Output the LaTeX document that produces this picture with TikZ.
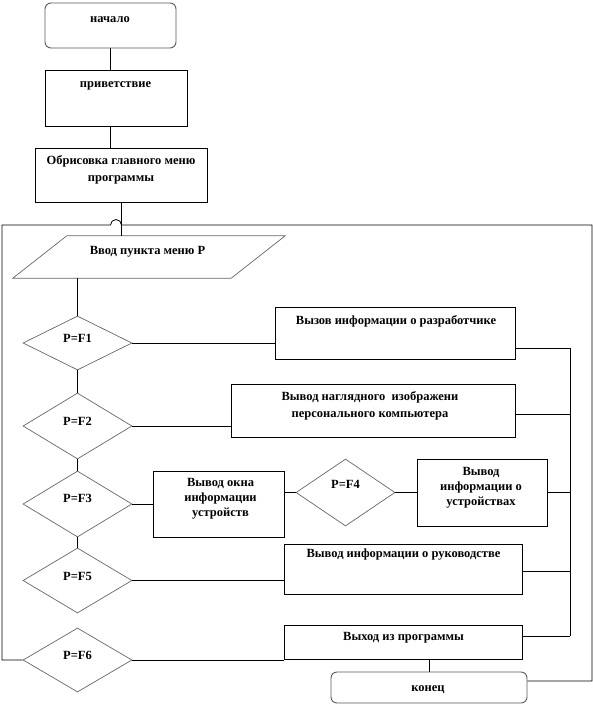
\documentclass[tikz,border=0pt]{standalone}
\usepackage{fontspec}
\setmainfont{Liberation Serif}
\usetikzlibrary{shapes.geometric}
\tikzset{
  boxs/.style={draw=black, rectangle, inner sep=0pt, line width=0.8pt},
  terms/.style={draw=black!65, rectangle, rounded corners=6pt, inner sep=0pt, line width=0.9pt},
  decs/.style={draw=black!60, diamond, inner sep=0pt, line width=0.7pt},
  ioline/.style={draw=black!60, line width=0.7pt},
  txt/.style={inner sep=0pt, align=center, font=\bfseries\fontsize{12.5}{17}\selectfont},
  txt3/.style={inner sep=0pt, align=center, font=\bfseries\fontsize{12.5}{14.8}\selectfont},
  conn/.style={draw=black, line width=0.8pt}
}
\begin{document}
\begin{tikzpicture}[x=1pt, y=-1pt]
\useasboundingbox (0,0) rectangle (593,706);
% shapes
\node[terms, minimum width=131pt, minimum height=45pt] (start) at (110.5,25.5) {};
\node[boxs, minimum width=142pt, minimum height=56pt] (hello) at (116,98) {};
\node[boxs, minimum width=172pt, minimum height=54pt] (menu) at (121,175) {};
\node[rectangle, inner sep=0pt, minimum width=272pt, minimum height=42pt] (input) at (149,257) {};
\draw[ioline] ([xshift=54pt]input.north west) -- (input.north east) -- ([xshift=-54pt]input.south east) -- (input.south west) -- cycle;
\node[decs, minimum width=109pt, minimum height=54pt] (f1) at (77.5,343) {};
\node[decs, minimum width=109pt, minimum height=66pt] (f2) at (77.5,426) {};
\node[decs, minimum width=109pt, minimum height=66pt] (f3) at (77.5,504) {};
\node[decs, minimum width=109pt, minimum height=65pt] (f5) at (77.5,580.5) {};
\node[decs, minimum width=109pt, minimum height=64pt] (f6) at (77.5,660) {};
\node[decs, minimum width=99pt, minimum height=67pt] (f4) at (345.5,492.5) {};
\node[boxs, minimum width=240pt, minimum height=52pt] (b1) at (395,333) {};
\node[boxs, minimum width=284pt, minimum height=53pt] (b2) at (373,410.5) {};
\node[boxs, minimum width=131pt, minimum height=66pt] (b3) at (218.5,504) {};
\node[boxs, minimum width=130pt, minimum height=67pt] (b4) at (482,492.5) {};
\node[boxs, minimum width=238pt, minimum height=50pt] (b5) at (403.5,569) {};
\node[boxs, minimum width=238pt, minimum height=34pt] (b6) at (403.5,642) {};
\node[terms, minimum width=196pt, minimum height=31pt] (fin) at (429,687.5) {};
% texts
\node[txt] (t0) at (110,20) {начало};
\node[txt] (t1) at (115.5,86) {приветствие};
\node[txt] (t2) at (121,169.5) {Обрисовка главного меню\\программы};
\node[txt] (tin) at (147.5,252) {Ввод пункта меню P};
\node[txt] (tf1) at (77.5,338) {P=F1};
\node[txt] (tf2) at (77.5,421) {P=F2};
\node[txt] (tf3) at (77.5,498) {P=F3};
\node[txt] (tf4) at (345.5,484) {P=F4};
\node[txt] (tf5) at (77.5,576) {P=F5};
\node[txt] (tf6) at (77.5,655) {P=F6};
\node[txt] (tb1) at (396,321) {Вызов информации о разработчике};
\node[txt] (tb2) at (370,406) {Вывод наглядного \ изображени\\персонального компьютера};
\node[txt3] (tb3) at (220.5,498.5) {Вывод окна\\информации\\устройств};
\node[txt3] (tb4) at (481,488) {Вывод\\информации о\\устройствах};
\node[txt] (tb5) at (403.5,555) {Вывод информации о руководстве};
\node[txt] (tb6) at (403.5,638) {Выход из программы};
\node[txt] (tfin) at (428,690) {конец};
% coordinates
\coordinate (lx) at (2,225);
\coordinate (hopL) at (110.5,225);
\coordinate (rx) at (592,225);
\coordinate (busEnd) at (570,636);
\coordinate (b1o) at ([yshift=-15pt]b1.east);
\coordinate (b2o) at ([yshift=-3.5pt]b2.east);
\coordinate (b5o) at ([yshift=-2pt]b5.east);
\coordinate (b6o) at ([yshift=6pt]b6.east);
\coordinate (fino) at ([yshift=6.5pt]fin.east);
% connectors
\draw[conn] (start.south) -- (start.south |- hello.north);
\draw[conn] (start.south |- hello.south) -- (start.south |- menu.north);
\draw[conn] (menu.south) -- (menu.south |- input.north);
\draw[conn] (f1.north |- input.south) -- (f1.north);
\draw[conn] (f1.south) -- (f2.north);
\draw[conn] (f2.south) -- (f3.north);
\draw[conn] (f3.south) -- (f5.north);
\draw[conn] (f1.east) -- (f1.east -| b1.west);
\draw[conn] (f2.east) -- (f2.east -| b2.west);
\draw[conn] (f3.east) -- (f3.east -| b3.west);
\draw[conn] (f4.west -| b3.east) -- (f4.west);
\draw[conn] (f4.east) -- (f4.east -| b4.west);
\draw[conn] (f5.east) -- (f5.east -| b5.west);
\draw[conn] (f6.east) -- (f6.east -| b6.west);
\draw[conn] (fin.north |- b6.south) -- (fin.north);
\draw[conn] (b1o) -| (busEnd);
\draw[conn] (b2o) -- (b2o -| busEnd);
\draw[conn] (b4.east) -- (b4.east -| busEnd);
\draw[conn] (b5o) -- (b5o -| busEnd);
\draw[conn] (b6o) -- (busEnd);
\draw[conn] (f6.west) -| (lx) -- (hopL) arc[start angle=180, end angle=0, radius=5.5pt] -- (rx) |- (fino);
\end{tikzpicture}
\end{document}
